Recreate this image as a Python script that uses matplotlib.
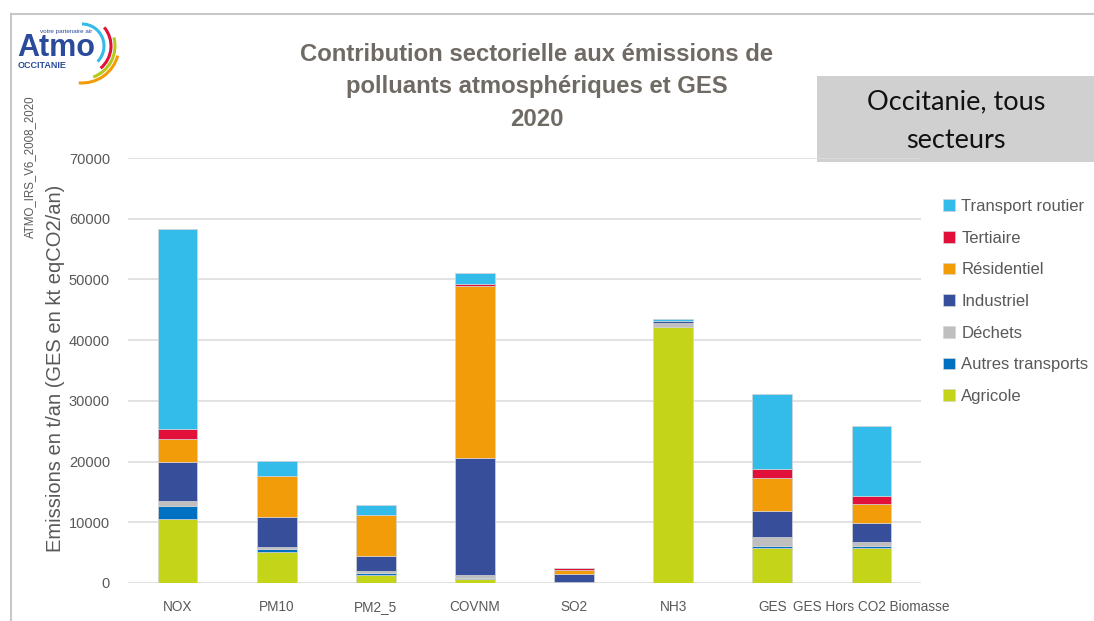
"""
Contribution sectorielle aux émissions - Occitanie 2020
Stacked bars per pollutant, one colour per sector.
"""

import matplotlib.pyplot as plt
from matplotlib.patches import Arc, Rectangle
import numpy as np

categories = ["NOX", "PM10", "PM2_5", "COVNM", "SO2", "NH3", "GES", "GES Hors CO2 Biomasse"]

# values (t/an, GES in kt eqCO2/an), bottom to top
agricole = [10600, 5160, 1260, 650, 50, 42110, 5820, 5820]
autres_transports = [2080, 390, 390, 230, 60, 0, 270, 270]
dechets = [880, 320, 330, 430, 50, 660, 1540, 710]
industriel = [6370, 5000, 2520, 19330, 1320, 330, 4180, 3080]
residentiel = [3740, 6760, 6700, 28280, 660, 0, 5540, 3080]
tertiaire = [1700, 50, 50, 270, 380, 0, 1430, 1370]
transport_routier = [32890, 2350, 1590, 1860, 0, 330, 12300, 11530]

sectors = ["Agricole", "Autres transports", "Déchets", "Industriel",
           "Résidentiel", "Tertiaire", "Transport routier"]
series = [agricole, autres_transports, dechets, industriel,
          residentiel, tertiaire, transport_routier]
colors = ["#c4d418", "#0070c0", "#bfbfbf", "#374f9a",
          "#f39c0a", "#e0103a", "#33bbea"]

plt.rcParams["font.family"] = ["Liberation Sans", "DejaVu Sans"]
TXT = "#595959"

W, H = 1094, 621
fig = plt.figure(figsize=(W / 100, H / 100), dpi=100)

# decoration layer in pixel coordinates
deco = fig.add_axes([0, 0, 1, 1], zorder=-1)
deco.set_xlim(0, W)
deco.set_ylim(H, 0)
deco.axis("off")
deco.plot([11, W], [14, 14], color="#c8c8c8", lw=1.5)
deco.plot([11, 11], [14, H], color="#c8c8c8", lw=1.5)
deco.add_patch(Rectangle((817, 76), W - 817, 86, fc="#d0d0d0", ec="none"))
deco.text(956, 102, "Occitanie, tous", ha="center", va="center",
          fontsize=19.5, family="Lato", color="#111111")
deco.text(956, 140, "secteurs", ha="center", va="center",
          fontsize=19.5, family="Lato", color="#111111")

# logo
deco.text(17, 56, "Atmo", fontsize=22, fontweight="bold", color="#2a4a9b",
          ha="left", va="baseline")
deco.text(18, 66, "OCCITANIE", fontsize=6.5, fontweight="bold", color="#2a4a9b",
          ha="left", va="center")
deco.text(92, 32, "votre partenaire air", fontsize=4.5, color="#2a4a9b",
          ha="right", va="center")
for r, t1, t2, c in [(22, -90, 45, "#33bbea"), (29, -40, 50, "#e0103a"),
                     (33, -15, 70, "#b5c91a"), (37, 15, 95, "#f39c0a")]:
    deco.add_patch(Arc((82, 46), 2 * r, 2 * r, theta1=t1, theta2=t2,
                       color=c, lw=2.2))

deco.text(30, 167, "ATMO_IRS_V6_2008_2020", rotation=90, ha="center", va="center",
          fontsize=8.3, color=TXT)

# title
title = "Contribution sectorielle aux émissions de\npolluants atmosphériques et GES\n2020"
deco.text(537, 87, title, ha="center", va="center", fontsize=17.2,
          fontweight="bold", color="#6f6b64", linespacing=1.55)

deco.text(56, 368, "Emissions en t/an (GES en kt eqCO2/an)", rotation=90,
          ha="center", va="center", fontsize=14.5, color=TXT)

# chart
ax = fig.add_axes([128 / W, 1 - 583 / H, 793 / W, 425 / H])
x = np.arange(len(categories))
bottom = np.zeros(len(categories))
for name, vals, col in zip(sectors, series, colors):
    ax.bar(x, vals, 0.4, bottom=bottom, color=col, label=name,
           edgecolor="#d4d4d4", linewidth=0.5, zorder=3)
    bottom += np.array(vals)

ax.set_xlim(-0.5, len(categories) - 0.5)
ax.set_ylim(0, 70000)
ax.set_yticks(range(0, 70001, 10000))
ax.yaxis.grid(True, color="#dddddd", lw=1.2, zorder=0)
ax.set_xticks(x)
ax.set_xticklabels(categories)
ax.tick_params(length=0, labelsize=10.5, labelcolor=TXT)
ax.tick_params(axis="y", pad=13)
ax.tick_params(axis="x", pad=12, labelsize=9.8)
for s in ax.spines.values():
    s.set_visible(False)
ax.set_facecolor("none")

handles, labels = ax.get_legend_handles_labels()
fig.legend(handles[::-1], labels[::-1], loc="upper left",
           bbox_to_anchor=(943 / W, 1 - 199 / H), frameon=False,
           fontsize=12, labelcolor=TXT, handlelength=0.7, handleheight=0.7,
           handletextpad=0.4, labelspacing=1.0, borderpad=0, borderaxespad=0)

fig.savefig("out.png", dpi=100)
